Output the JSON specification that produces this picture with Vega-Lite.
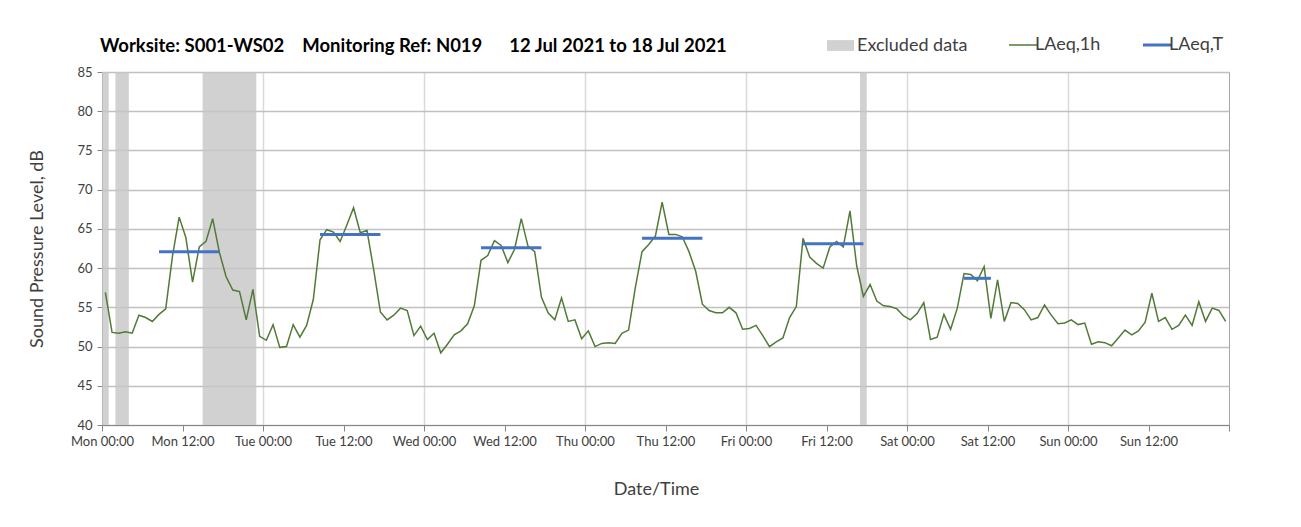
{
  "$schema": "https://vega.github.io/schema/vega-lite/v6.json",
  "width": 1127,
  "height": 353,
  "autosize": {"type": "none"},
  "padding": {"left": 102, "top": 72, "right": 72, "bottom": 102},
  "background": "white",
  "title": {
    "text": "Worksite: S001-WS02\u00a0\u00a0\u00a0\u00a0Monitoring Ref: N019\u00a0\u00a0\u00a0\u00a0\u00a0\u00a012 Jul 2021 to 18 Jul 2021",
    "anchor": "start",
    "frame": "group",
    "font": "Lato",
    "fontSize": 18.5,
    "fontWeight": "bold",
    "color": "#000000",
    "offset": 14,
    "dx": -2,
    "dy": 37
  },
  "datasets": {
    "excluded": [
      {"start": 0, "end": 1, "series": "Excluded data"},
      {"start": 2, "end": 4, "series": "Excluded data"},
      {"start": 15, "end": 23, "series": "Excluded data"},
      {"start": 113, "end": 114, "series": "Excluded data"}
    ],
    "periods": [
      {"start": 8.5, "end": 17.5, "v": 62.1},
      {"start": 32.5, "end": 41.5, "v": 64.3},
      {"start": 56.5, "end": 65.5, "v": 62.6},
      {"start": 80.5, "end": 89.5, "v": 63.8},
      {"start": 104.5, "end": 113.5, "v": 63.1},
      {"start": 128.5, "end": 132.5, "v": 58.7}
    ],
    "hourly": [
      {"h":0.5,"v":56.9},{"h":1.5,"v":51.8},{"h":2.5,"v":51.7},{"h":3.5,"v":51.9},{"h":4.5,"v":51.7},{"h":5.5,"v":54.0},{"h":6.5,"v":53.7},{"h":7.5,"v":53.2},{"h":8.5,"v":54.1},{"h":9.5,"v":54.8},
      {"h":10.5,"v":61.5},{"h":11.5,"v":66.5},{"h":12.5,"v":63.9},{"h":13.5,"v":58.2},{"h":14.5,"v":62.7},{"h":15.5,"v":63.4},{"h":16.5,"v":66.3},{"h":17.5,"v":62.0},{"h":18.5,"v":58.9},{"h":19.5,"v":57.2},
      {"h":20.5,"v":57.0},{"h":21.5,"v":53.4},{"h":22.5,"v":57.3},{"h":23.5,"v":51.3},{"h":24.5,"v":50.8},{"h":25.5,"v":52.8},{"h":26.5,"v":49.9},{"h":27.5,"v":50.0},{"h":28.5,"v":52.8},{"h":29.5,"v":51.2},
      {"h":30.5,"v":52.7},{"h":31.5,"v":56.0},{"h":32.5,"v":63.6},{"h":33.5,"v":64.9},{"h":34.5,"v":64.6},{"h":35.5,"v":63.4},{"h":36.5,"v":65.5},{"h":37.5,"v":67.7},{"h":38.5,"v":64.5},{"h":39.5,"v":64.8},
      {"h":40.5,"v":59.8},{"h":41.5,"v":54.4},{"h":42.5,"v":53.4},{"h":43.5,"v":54.0},{"h":44.5,"v":54.9},{"h":45.5,"v":54.6},{"h":46.5,"v":51.4},{"h":47.5,"v":52.6},{"h":48.5,"v":50.9},{"h":49.5,"v":51.7},
      {"h":50.5,"v":49.2},{"h":51.5,"v":50.3},{"h":52.5,"v":51.5},{"h":53.5,"v":52.0},{"h":54.5,"v":52.9},{"h":55.5,"v":55.2},{"h":56.5,"v":61.0},{"h":57.5,"v":61.6},{"h":58.5,"v":63.5},{"h":59.5,"v":62.9},
      {"h":60.5,"v":60.7},{"h":61.5,"v":62.4},{"h":62.5,"v":66.3},{"h":63.5,"v":62.8},{"h":64.5,"v":62.1},{"h":65.5,"v":56.3},{"h":66.5,"v":54.3},{"h":67.5,"v":53.4},{"h":68.5,"v":56.2},{"h":69.5,"v":53.2},
      {"h":70.5,"v":53.4},{"h":71.5,"v":51.0},{"h":72.5,"v":52.0},{"h":73.5,"v":50.0},{"h":74.5,"v":50.4},{"h":75.5,"v":50.5},{"h":76.5,"v":50.4},{"h":77.5,"v":51.7},{"h":78.5,"v":52.1},{"h":79.5,"v":57.5},
      {"h":80.5,"v":62.1},{"h":81.5,"v":63.0},{"h":82.5,"v":64.1},{"h":83.5,"v":68.4},{"h":84.5,"v":64.3},{"h":85.5,"v":64.3},{"h":86.5,"v":64.0},{"h":87.5,"v":62.1},{"h":88.5,"v":59.6},{"h":89.5,"v":55.4},
      {"h":90.5,"v":54.6},{"h":91.5,"v":54.3},{"h":92.5,"v":54.3},{"h":93.5,"v":55.0},{"h":94.5,"v":54.3},{"h":95.5,"v":52.2},{"h":96.5,"v":52.3},{"h":97.5,"v":52.7},{"h":98.5,"v":51.4},{"h":99.5,"v":50.0},
      {"h":100.5,"v":50.6},{"h":101.5,"v":51.1},{"h":102.5,"v":53.7},{"h":103.5,"v":55.1},{"h":104.5,"v":63.8},{"h":105.5,"v":61.4},{"h":106.5,"v":60.6},{"h":107.5,"v":60.0},{"h":108.5,"v":62.7},{"h":109.5,"v":63.4},
      {"h":110.5,"v":62.7},{"h":111.5,"v":67.3},{"h":112.5,"v":60.3},{"h":113.5,"v":56.4},{"h":114.5,"v":57.9},{"h":115.5,"v":55.8},{"h":116.5,"v":55.2},{"h":117.5,"v":55.1},{"h":118.5,"v":54.8},{"h":119.5,"v":53.9},
      {"h":120.5,"v":53.4},{"h":121.5,"v":54.2},{"h":122.5,"v":55.6},{"h":123.5,"v":50.9},{"h":124.5,"v":51.2},{"h":125.5,"v":54.1},{"h":126.5,"v":52.2},{"h":127.5,"v":54.9},{"h":128.5,"v":59.3},{"h":129.5,"v":59.2},
      {"h":130.5,"v":58.4},{"h":131.5,"v":60.2},{"h":132.5,"v":53.6},{"h":133.5,"v":58.5},{"h":134.5,"v":53.2},{"h":135.5,"v":55.6},{"h":136.5,"v":55.5},{"h":137.5,"v":54.7},{"h":138.5,"v":53.4},{"h":139.5,"v":53.7},
      {"h":140.5,"v":55.3},{"h":141.5,"v":54.0},{"h":142.5,"v":52.9},{"h":143.5,"v":53.0},{"h":144.5,"v":53.4},{"h":145.5,"v":52.8},{"h":146.5,"v":53.0},{"h":147.5,"v":50.3},{"h":148.5,"v":50.6},{"h":149.5,"v":50.5},
      {"h":150.5,"v":50.1},{"h":151.5,"v":51.1},{"h":152.5,"v":52.1},{"h":153.5,"v":51.5},{"h":154.5,"v":52.0},{"h":155.5,"v":53.1},{"h":156.5,"v":56.8},{"h":157.5,"v":53.2},{"h":158.5,"v":53.7},{"h":159.5,"v":52.2},
      {"h":160.5,"v":52.7},{"h":161.5,"v":54.0},{"h":162.5,"v":52.7},{"h":163.5,"v":55.7},{"h":164.5,"v":53.2},{"h":165.5,"v":54.9},{"h":166.5,"v":54.6},{"h":167.5,"v":53.2}
    ]
  },
  "layer": [
    {
      "data": {"name": "excluded"},
      "mark": {"type": "rect", "opacity": 0.8},
      "encoding": {
        "x": {
          "field": "start", "type": "quantitative",
          "scale": {"domain": [0, 168], "nice": false, "zero": false},
          "axis": {
            "title": "Date/Time",
            "values": [0, 12, 24, 36, 48, 60, 72, 84, 96, 108, 120, 132, 144, 156, 168],
            "labelExpr": "datum.value >= 168 ? '' : ['Mon','Tue','Wed','Thu','Fri','Sat','Sun'][floor(datum.value/24)] + ' ' + (datum.value % 24 == 0 ? '00:00' : '12:00')",
            "tickSize": 6,
            "gridColor": "#d9d9d9",
            "gridWidth": 1.5,
            "gridOpacity": {"condition": {"test": "datum.value % 24 == 0 && datum.value > 0 && datum.value < 168", "value": 1}, "value": 0},
            "labelFontSize": 13,
            "labelPadding": 4,
            "labelFlush": false,
            "labelOverlap": false,
            "titleFontSize": 18,
            "titleX": 554,
            "titleY": 64,
            "titleBaseline": "middle"
          }
        },
        "x2": {"field": "end"},
        "fill": {
          "field": "series", "type": "nominal",
          "scale": {"domain": ["Excluded data"], "range": ["#c6c6c6"]},
          "legend": {
            "orient": "none", "legendX": 725, "legendY": -40, "direction": "horizontal",
            "title": null, "padding": 0,
            "symbolType": "M-1,-0.4H1V0.4H-1Z", "symbolSize": 729, "symbolStrokeWidth": 0,
            "labelFontSize": 18, "labelColor": "#404040", "labelOffset": 3
          }
        }
      }
    },
    {
      "data": {"name": "hourly"},
      "mark": {"type": "line", "strokeWidth": 1.5},
      "encoding": {
        "x": {"field": "h", "type": "quantitative"},
        "y": {
          "field": "v", "type": "quantitative",
          "scale": {"domain": [40, 85], "nice": false, "zero": false},
          "axis": {
            "title": "Sound Pressure Level, dB",
            "values": [40, 45, 50, 55, 60, 65, 70, 75, 80, 85],
            "tickSize": 5,
            "gridColor": "#c0c0c0",
            "gridWidth": 1.5,
            "labelFontSize": 13,
            "labelPadding": 5,
            "labelOverlap": false,
            "labelFlush": false,
            "titleFontSize": 18,
            "titleX": -65,
            "titleY": 176.5,
            "titleBaseline": "middle"
          }
        },
        "stroke": {
          "datum": "LAeq,1h", "type": "nominal",
          "scale": {"domain": ["LAeq,1h", "LAeq,T"], "range": ["#527a36", "#4472c4"]},
          "legend": {
            "orient": "none", "legendX": 912, "legendY": -36, "direction": "horizontal",
            "title": null, "padding": 0,
            "symbolType": "stroke", "symbolSize": 784, "symbolStrokeWidth": 1.5,
            "labelFontSize": 18, "labelColor": "#404040", "labelOffset": 3, "columnPadding": 36,
            "encode": {"symbols": {"update": {"strokeWidth": {"signal": "datum.value === 'LAeq,T' ? 3 : 1.5"}}}}
          }
        }
      }
    },
    {
      "data": {"name": "periods"},
      "mark": {"type": "rule", "strokeWidth": 3},
      "encoding": {
        "x": {"field": "start", "type": "quantitative"},
        "x2": {"field": "end"},
        "y": {
          "field": "v", "type": "quantitative",
          "axis": {
            "title": "Sound Pressure Level, dB",
            "values": [40, 45, 50, 55, 60, 65, 70, 75, 80, 85],
            "tickSize": 5,
            "gridColor": "#c0c0c0",
            "gridWidth": 1.5,
            "labelFontSize": 13,
            "labelPadding": 5,
            "labelOverlap": false,
            "labelFlush": false,
            "titleFontSize": 18,
            "titleX": -65,
            "titleY": 176.5,
            "titleBaseline": "middle"
          }
        },
        "stroke": {"datum": "LAeq,T", "type": "nominal"}
      }
    }
  ],
  "config": {
    "font": "Lato",
    "view": {"stroke": "#a6a6a6", "strokeWidth": 1},
    "axis": {
      "domainColor": "#878787",
      "tickColor": "#878787",
      "labelColor": "#404040",
      "titleColor": "#404040",
      "titleFontWeight": "normal"
    }
  }
}
